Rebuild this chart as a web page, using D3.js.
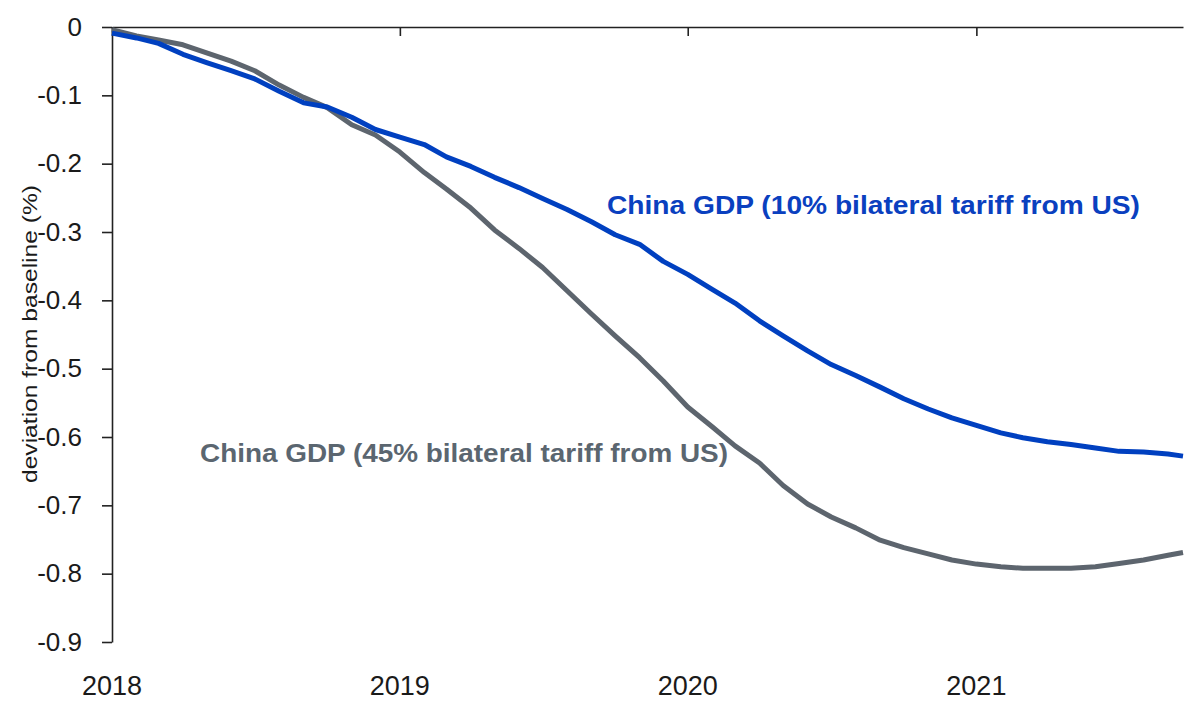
<!DOCTYPE html>
<html>
<head>
<meta charset="utf-8">
<script src="https://cdn.jsdelivr.net/npm/d3@7"></script>
<style>
  html, body { margin: 0; padding: 0; background: #ffffff; }
  svg { display: block; }
  text { font-family: "Liberation Sans", Arial, sans-serif; }
</style>
</head>
<body>
<svg id="chart" width="1200" height="720"></svg>
<script>
// ---- data ----
const dates = [
  "2018-01-01","2018-02-01","2018-03-01","2018-04-01","2018-05-01","2018-06-01",
  "2018-07-01","2018-08-01","2018-09-01","2018-10-01","2018-11-01","2018-12-01",
  "2019-01-01","2019-02-01","2019-03-01","2019-04-01","2019-05-01","2019-06-01",
  "2019-07-01","2019-08-01","2019-09-01","2019-10-01","2019-11-01","2019-12-01",
  "2020-01-01","2020-02-01","2020-03-01","2020-04-01","2020-05-01","2020-06-01",
  "2020-07-01","2020-08-01","2020-09-01","2020-10-01","2020-11-01","2020-12-01",
  "2021-01-01","2021-02-01","2021-03-01","2021-04-01","2021-05-01","2021-06-01",
  "2021-07-01","2021-08-01","2021-09-01","2021-09-20"
];
const gdp10 = [
  -0.009,-0.016,-0.024,-0.040,-0.052,-0.064,-0.076,-0.094,-0.111,-0.117,-0.132,-0.150,
  -0.161,-0.172,-0.190,-0.204,-0.220,-0.235,-0.251,-0.267,-0.285,-0.304,-0.318,-0.343,
  -0.362,-0.384,-0.404,-0.430,-0.452,-0.474,-0.494,-0.510,-0.527,-0.544,-0.559,-0.572,
  -0.583,-0.594,-0.601,-0.607,-0.611,-0.616,-0.621,-0.622,-0.625,-0.628
];
const gdp45 = [
  -0.004,-0.013,-0.019,-0.026,-0.038,-0.050,-0.064,-0.085,-0.103,-0.118,-0.143,-0.158,
  -0.183,-0.213,-0.237,-0.265,-0.297,-0.324,-0.352,-0.386,-0.420,-0.452,-0.484,-0.518,
  -0.556,-0.585,-0.613,-0.638,-0.671,-0.698,-0.717,-0.733,-0.751,-0.762,-0.771,-0.780,
  -0.786,-0.790,-0.792,-0.792,-0.792,-0.790,-0.785,-0.780,-0.773,-0.769
];
const yTicks = [0, -0.1, -0.2, -0.3, -0.4, -0.5, -0.6, -0.7, -0.8, -0.9];
const yearTicks = ["2018-01-01", "2019-01-01", "2020-01-01", "2021-01-01"];
const yearLabels = ["2018", "2019", "2020", "2021"];
const yTitle = "deviation from baseline (%)";
const label10 = "China GDP (10% bilateral tariff from US)";
const label45 = "China GDP (45% bilateral tariff from US)";

// ---- layout ----
const parse = d3.timeParse("%Y-%m-%d");
const svg = d3.select("#chart");
const mLeft = 112, mRight = 1183, mTop = 27, mBottom = 642;

const x = d3.scaleTime()
  .domain([parse("2018-01-01"), parse(dates[dates.length - 1])])
  .range([mLeft, mRight]);
const y = d3.scaleLinear().domain([0, -0.9]).range([mTop, mBottom]);

const fmtY = v => (v === 0 ? "0" : d3.format(".1f")(v).replace("\u2212", "-"));

// Y axis (left)
const yAxis = d3.axisLeft(y).tickValues(yTicks).tickSize(10).tickSizeOuter(0).tickFormat(fmtY).tickPadding(20);
const gy = svg.append("g").attr("transform", `translate(${mLeft},0)`).call(yAxis);
gy.select(".domain").attr("stroke", "#222").attr("stroke-width", 1.6);
gy.selectAll(".tick line").attr("stroke", "#222").attr("stroke-width", 1.6);
gy.selectAll(".tick text").attr("font-size", 26).attr("fill", "#1a1a1a")
  .attr("font-family", "'Liberation Sans', Arial, sans-serif");

// X axis at y=0 (top), ticks pointing down, labels placed at bottom
const xAxis = d3.axisBottom(x).tickValues(yearTicks.map(parse)).tickSize(9).tickSizeOuter(0).tickFormat("");
const gx = svg.append("g").attr("transform", `translate(0,${y(0)})`).call(xAxis);
gx.select(".domain").attr("stroke", "#222").attr("stroke-width", 1.6);
gx.selectAll(".tick line").attr("stroke", "#222").attr("stroke-width", 1.6);

svg.append("g").selectAll("text").data(yearTicks).join("text")
  .attr("x", d => x(parse(d)))
  .attr("y", 695)
  .attr("text-anchor", "middle")
  .attr("font-size", 27)
  .attr("fill", "#1a1a1a")
  .text((d, i) => yearLabels[i]);

// Y title
svg.append("text")
  .attr("transform", "translate(37,334) rotate(-90)")
  .attr("text-anchor", "middle")
  .attr("font-size", 21)
  .attr("fill", "#1a1a1a")
  .attr("textLength", 298)
  .attr("lengthAdjust", "spacingAndGlyphs")
  .text(yTitle);

// Lines
const rows = dates.map((d, i) => ({ date: parse(d), a: gdp10[i], b: gdp45[i] }));
const lineA = d3.line().x(d => x(d.date)).y(d => y(d.a));
const lineB = d3.line().x(d => x(d.date)).y(d => y(d.b));

svg.append("path").datum(rows).attr("d", lineB)
  .attr("fill", "none").attr("stroke", "#5d656e").attr("stroke-width", 5)
  .attr("stroke-linejoin", "round");
svg.append("path").datum(rows).attr("d", lineA)
  .attr("fill", "none").attr("stroke", "#0040c0").attr("stroke-width", 5)
  .attr("stroke-linejoin", "round");

// Series labels
svg.append("text")
  .attr("x", 607).attr("y", 214)
  .attr("font-size", 26).attr("font-weight", "bold")
  .attr("fill", "#0a40bf")
  .attr("textLength", 533).attr("lengthAdjust", "spacingAndGlyphs")
  .text(label10);
svg.append("text")
  .attr("x", 200).attr("y", 462)
  .attr("font-size", 26).attr("font-weight", "bold")
  .attr("fill", "#5b6670")
  .attr("textLength", 528).attr("lengthAdjust", "spacingAndGlyphs")
  .text(label45);
</script>
</body>
</html>
